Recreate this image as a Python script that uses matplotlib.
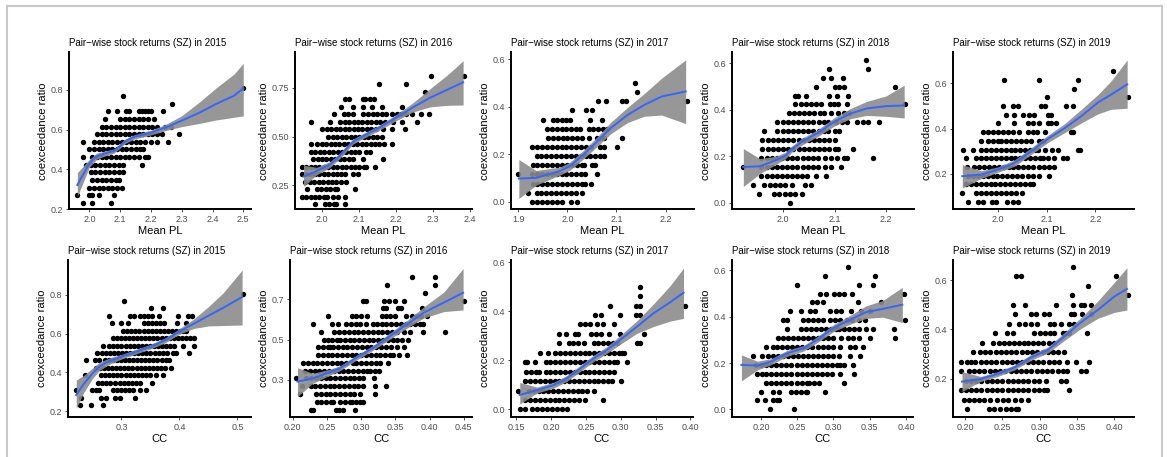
import numpy as np
import matplotlib.pyplot as plt
from matplotlib.patches import Rectangle

W, H = 1167, 457
plt.rcParams['font.family'] = ['Liberation Sans', 'DejaVu Sans']

N_WINDOWS = 26  # coexceedance ratio = count / 26

# ---------- scatter data: {coexceedance count: [x values]} ----------
pl_2015 = {
    21: [2.50],
    20: [2.11],
    19: [2.27],
    18: [2.06, 2.09, 2.12, 2.13, 2.16, 2.17, 2.18, 2.19, 2.20, 2.24],
    17: [2.05, 2.10, 2.115, 2.13, 2.145, 2.16, 2.175, 2.19, 2.21],
    16: [2.04, 2.055, 2.07, 2.085, 2.10, 2.115, 2.13, 2.145, 2.16, 2.175, 2.19, 2.205, 2.22, 2.245, 2.265],
    15: [2.025, 2.04, 2.055, 2.07, 2.085, 2.10, 2.115, 2.13, 2.145, 2.16, 2.175, 2.19, 2.205, 2.22, 2.235, 2.29],
    14: [1.98, 2.015, 2.03, 2.045, 2.06, 2.075, 2.09, 2.105, 2.12, 2.135, 2.15, 2.165, 2.18, 2.20, 2.22, 2.255],
    13: [2.00, 2.015, 2.03, 2.045, 2.06, 2.075, 2.09, 2.105, 2.12, 2.135, 2.15, 2.165, 2.175],
    12: [1.98, 2.01, 2.025, 2.04, 2.055, 2.07, 2.085, 2.10, 2.115, 2.13, 2.145, 2.16, 2.18, 2.19],
    11: [1.99, 2.005, 2.02, 2.035, 2.05, 2.065, 2.08, 2.095, 2.11, 2.17],
    10: [2.005, 2.02, 2.035, 2.05, 2.065, 2.08, 2.095, 2.11],
    9: [2.01, 2.025, 2.04, 2.055, 2.07, 2.085, 2.095],
    8: [2.00, 2.015, 2.03, 2.045, 2.06, 2.075, 2.09, 2.105],
    7: [1.96, 2.00, 2.01, 2.03, 2.08],
    6: [1.98, 2.01, 2.07],
}
pl_2016 = {
    21: [2.295, 2.384],
    20: [2.154, 2.228],
    19: [2.278],
    18: [2.062, 2.073, 2.111, 2.116, 2.129, 2.14],
    17: [2.051, 2.084, 2.111, 2.134, 2.161, 2.217],
    16: [2.032, 2.058, 2.071, 2.084, 2.111, 2.125, 2.137, 2.149, 2.161, 2.173, 2.19, 2.202, 2.214, 2.226, 2.242, 2.266, 2.29],
    15: [1.97, 2.022, 2.049, 2.061, 2.073, 2.085, 2.097, 2.109, 2.121, 2.133, 2.145, 2.157, 2.169, 2.192, 2.215, 2.257],
    14: [2.001, 2.013, 2.025, 2.037, 2.049, 2.061, 2.073, 2.085, 2.097, 2.109, 2.121, 2.133, 2.145, 2.165, 2.188, 2.225],
    13: [2.017, 2.029, 2.041, 2.053, 2.065, 2.077, 2.089, 2.101, 2.113, 2.125, 2.137, 2.149, 2.161],
    12: [1.97, 1.987, 1.999, 2.011, 2.023, 2.035, 2.047, 2.059, 2.071, 2.083, 2.095, 2.107, 2.119, 2.131, 2.143, 2.155, 2.167, 2.188],
    11: [1.97, 1.982, 1.994, 2.006, 2.018, 2.03, 2.042, 2.054, 2.066, 2.078, 2.09, 2.10, 2.12, 2.13],
    10: [1.976, 1.988, 2.0, 2.012, 2.024, 2.036, 2.048, 2.06, 2.072, 2.084, 2.111, 2.164],
    9: [1.945, 1.957, 1.969, 1.981, 1.993, 2.005, 2.017, 2.029, 2.041, 2.053, 2.065, 2.077, 2.089, 2.101, 2.113, 2.12, 2.143],
    8: [1.945, 1.957, 1.969, 1.981, 1.993, 2.005, 2.017, 2.029, 2.041, 2.05, 2.062, 2.084, 2.098],
    7: [1.955, 1.967, 1.979, 1.991, 2.003, 2.015, 2.027, 2.039, 2.051, 2.066],
    6: [1.96, 1.986, 1.998, 2.010, 2.022, 2.034, 2.04, 2.089],
    5: [1.945, 1.957, 1.969, 1.981, 1.993, 2.005, 2.013, 2.03, 2.044, 2.062],
    4: [1.981, 2.008, 2.02, 2.032, 2.038, 2.062],
}
pl_2017 = {
    13: [2.138],
    12: [2.141],
    11: [2.062, 2.079, 2.111, 2.119, 2.243],
    10: [2.01, 2.038, 2.05],
    9: [1.95, 1.97, 1.979, 1.988, 1.997, 2.005, 2.047, 2.071],
    8: [1.958, 1.968, 1.978, 1.988, 1.998, 2.008, 2.018, 2.026, 2.043, 2.053, 2.063, 2.073, 2.081],
    7: [1.96, 1.97, 1.98, 1.99, 2.0, 2.01, 2.02, 2.03, 2.043, 2.06, 2.068, 2.074, 2.111],
    6: [1.928, 1.938, 1.948, 1.958, 1.968, 1.978, 1.988, 1.998, 2.008, 2.018, 2.028, 2.038, 2.048, 2.066, 2.074, 2.102],
    5: [1.937, 1.947, 1.957, 1.967, 1.977, 1.987, 1.997, 2.007, 2.017, 2.027, 2.037, 2.047, 2.057, 2.067, 2.074],
    4: [1.929, 1.939, 1.949, 1.959, 1.969, 1.979, 1.989, 1.999, 2.009, 2.019, 2.029, 2.033, 2.05, 2.057],
    3: [1.90, 1.928, 1.938, 1.948, 1.958, 1.968, 1.978, 1.988, 1.998, 2.008, 2.018, 2.028, 2.036, 2.06],
    2: [1.929, 1.939, 1.949, 1.959, 1.969, 1.979, 1.989, 1.999, 2.009, 2.019, 2.029, 2.036, 2.049],
    1: [1.92, 1.937, 1.947, 1.957, 1.967, 1.977, 1.987, 1.997, 2.007, 2.017, 2.029],
    0: [1.928, 1.938, 1.948, 1.958, 1.968, 1.978, 1.988, 2.008, 2.019],
}
pl_2018 = {
    16: [2.161],
    15: [2.089, 2.165],
    14: [2.077, 2.093, 2.116],
    13: [2.064, 2.10, 2.109, 2.118, 2.217],
    12: [2.024, 2.029, 2.045, 2.09, 2.104, 2.126],
    11: [2.024, 2.034, 2.044, 2.054, 2.064, 2.074, 2.092, 2.099, 2.106, 2.125, 2.236],
    10: [2.011, 2.021, 2.031, 2.041, 2.051, 2.061, 2.071, 2.08, 2.093, 2.106, 2.118, 2.128],
    9: [1.989, 1.999, 2.009, 2.019, 2.029, 2.039, 2.049, 2.059, 2.069, 2.079, 2.087, 2.103, 2.114, 2.125, 2.143, 2.155, 2.165, 2.186],
    8: [1.964, 1.989, 1.999, 2.009, 2.019, 2.029, 2.039, 2.049, 2.059, 2.069, 2.079, 2.087, 2.10, 2.109],
    7: [1.96, 1.97, 1.98, 1.99, 2.0, 2.01, 2.02, 2.03, 2.04, 2.05, 2.06, 2.07, 2.08, 2.09, 2.10],
    6: [1.96, 1.97, 1.98, 1.99, 2.0, 2.01, 2.02, 2.03, 2.04, 2.05, 2.06, 2.07, 2.08, 2.09, 2.10, 2.107, 2.135],
    5: [1.958, 1.968, 1.978, 1.988, 1.998, 2.008, 2.018, 2.028, 2.038, 2.048, 2.058, 2.068, 2.081, 2.093, 2.105, 2.118, 2.125, 2.175],
    4: [1.923, 1.958, 1.968, 1.978, 1.988, 1.998, 2.008, 2.018, 2.028, 2.038, 2.048, 2.058, 2.068, 2.081, 2.093, 2.112],
    3: [1.958, 1.968, 1.978, 1.988, 1.998, 2.008, 2.018, 2.028, 2.036, 2.046, 2.063, 2.084],
    2: [1.942, 1.964, 1.974, 1.984, 1.994, 2.004, 2.018, 2.043, 2.054],
    1: [1.953, 1.983, 1.993, 2.003, 2.013, 2.023, 2.036],
    0: [2.013],
}
pl_2019 = {
    17: [2.235],
    16: [2.012, 2.085, 2.165],
    15: [2.155],
    14: [2.10, 2.266],
    13: [2.01, 2.03, 2.041, 2.089, 2.097, 2.14, 2.154],
    12: [2.017, 2.033, 2.051, 2.063, 2.075, 2.102, 2.109],
    11: [2.0, 2.034, 2.061, 2.071, 2.085, 2.102, 2.109, 2.119],
    10: [1.969, 1.979, 1.99, 2.0, 2.01, 2.02, 2.03, 2.044, 2.061, 2.071, 2.081, 2.096, 2.15, 2.154],
    9: [1.965, 1.98, 1.99, 2.0, 2.007, 2.017, 2.027, 2.037, 2.047, 2.057, 2.068, 2.085, 2.092],
    8: [1.928, 1.949, 1.966, 1.976, 1.986, 1.996, 2.006, 2.016, 2.026, 2.036, 2.046, 2.056, 2.066, 2.076, 2.082, 2.096, 2.11, 2.123, 2.164, 2.169],
    7: [1.935, 1.956, 1.966, 1.976, 1.986, 1.996, 2.006, 2.016, 2.026, 2.036, 2.046, 2.056, 2.066, 2.076, 2.086, 2.092, 2.102, 2.116, 2.134, 2.141],
    6: [1.937, 1.952, 1.962, 1.972, 1.982, 1.992, 2.002, 2.012, 2.022, 2.032, 2.042, 2.052, 2.062, 2.072, 2.085, 2.095, 2.105, 2.116],
    5: [1.939, 1.949, 1.959, 1.969, 1.979, 1.989, 1.999, 2.009, 2.019, 2.029, 2.039, 2.049, 2.061, 2.071, 2.085, 2.104],
    4: [1.935, 1.945, 1.955, 1.965, 1.975, 1.985, 1.995, 2.005, 2.015, 2.025, 2.035, 2.045, 2.055, 2.065, 2.072],
    3: [1.927, 1.956, 1.966, 1.976, 1.986, 1.996, 2.006, 2.016, 2.026, 2.038, 2.049],
    2: [1.939, 1.959, 1.969, 1.988, 1.997, 2.019, 2.03, 2.041],
}
cc_2015 = {
    21: [0.509],
    20: [0.305],
    19: [0.351, 0.372],
    18: [0.278, 0.315, 0.321, 0.332, 0.339, 0.346, 0.353, 0.365, 0.397, 0.415, 0.421],
    17: [0.284, 0.30, 0.312, 0.338, 0.345, 0.352, 0.359, 0.366, 0.374, 0.396, 0.412],
    16: [0.303, 0.31, 0.317, 0.324, 0.331, 0.338, 0.345, 0.352, 0.359, 0.366, 0.373, 0.38, 0.387, 0.394, 0.401, 0.406, 0.412],
    15: [0.285, 0.292, 0.299, 0.306, 0.313, 0.32, 0.327, 0.334, 0.341, 0.348, 0.355, 0.362, 0.369, 0.376, 0.383, 0.39, 0.397, 0.404, 0.411, 0.418, 0.425],
    14: [0.269, 0.279, 0.286, 0.293, 0.30, 0.307, 0.314, 0.321, 0.328, 0.335, 0.342, 0.349, 0.356, 0.363, 0.37, 0.377, 0.384, 0.39, 0.406, 0.425],
    13: [0.257, 0.266, 0.273, 0.28, 0.287, 0.294, 0.301, 0.308, 0.315, 0.322, 0.329, 0.336, 0.343, 0.35, 0.357, 0.364, 0.371, 0.378, 0.388, 0.394, 0.416],
    12: [0.238, 0.254, 0.262, 0.271, 0.278, 0.285, 0.292, 0.299, 0.306, 0.313, 0.32, 0.327, 0.334, 0.341, 0.348, 0.355, 0.362, 0.369, 0.376, 0.382],
    11: [0.256, 0.263, 0.27, 0.277, 0.284, 0.291, 0.298, 0.305, 0.312, 0.319, 0.326, 0.333, 0.34, 0.347, 0.354, 0.361, 0.368, 0.375, 0.385],
    10: [0.237, 0.265, 0.272, 0.279, 0.286, 0.293, 0.30, 0.307, 0.314, 0.321, 0.328, 0.335, 0.342, 0.349, 0.359, 0.371],
    9: [0.26, 0.267, 0.274, 0.281, 0.288, 0.297, 0.304, 0.311, 0.318, 0.325, 0.332, 0.353],
    8: [0.222, 0.249, 0.256, 0.262, 0.285, 0.292, 0.299, 0.306, 0.313, 0.32, 0.332, 0.342],
    7: [0.231, 0.265, 0.274, 0.289, 0.298, 0.324],
    6: [0.229, 0.248, 0.268],
}
cc_2016 = {
    21: [0.374, 0.408],
    20: [0.338, 0.408],
    19: [0.393],
    18: [0.302, 0.307, 0.334, 0.34, 0.349, 0.362, 0.45],
    17: [0.332, 0.337, 0.354, 0.358, 0.389],
    16: [0.252, 0.286, 0.293, 0.30, 0.308, 0.33, 0.337, 0.342, 0.35, 0.366, 0.374, 0.381, 0.388, 0.396],
    15: [0.23, 0.257, 0.266, 0.278, 0.285, 0.292, 0.298, 0.307, 0.318, 0.323, 0.33, 0.337, 0.344, 0.351, 0.358, 0.365, 0.372, 0.379, 0.386, 0.39],
    14: [0.242, 0.261, 0.268, 0.275, 0.282, 0.289, 0.296, 0.303, 0.31, 0.317, 0.324, 0.331, 0.338, 0.345, 0.352, 0.362, 0.372, 0.391, 0.423],
    13: [0.245, 0.251, 0.258, 0.265, 0.269, 0.276, 0.283, 0.29, 0.297, 0.304, 0.311, 0.318, 0.325, 0.332, 0.339, 0.346, 0.353, 0.36, 0.369],
    12: [0.237, 0.244, 0.251, 0.254, 0.259, 0.266, 0.273, 0.28, 0.287, 0.294, 0.301, 0.308, 0.315, 0.322, 0.329, 0.336, 0.343, 0.352, 0.362],
    11: [0.237, 0.244, 0.251, 0.258, 0.265, 0.272, 0.279, 0.286, 0.293, 0.30, 0.307, 0.314, 0.321, 0.328, 0.335, 0.342, 0.347, 0.355, 0.367],
    10: [0.215, 0.222, 0.229, 0.236, 0.243, 0.25, 0.257, 0.264, 0.271, 0.278, 0.288, 0.293, 0.30, 0.307, 0.314, 0.321, 0.327, 0.339],
    9: [0.218, 0.225, 0.232, 0.239, 0.246, 0.253, 0.26, 0.267, 0.274, 0.281, 0.288, 0.295, 0.302, 0.309, 0.313, 0.32, 0.326],
    8: [0.205, 0.22, 0.227, 0.234, 0.241, 0.248, 0.255, 0.262, 0.269, 0.276, 0.283, 0.29, 0.297, 0.303, 0.319],
    7: [0.214, 0.226, 0.233, 0.24, 0.247, 0.254, 0.261, 0.268, 0.275, 0.282, 0.289, 0.296, 0.303, 0.32, 0.336],
    6: [0.211, 0.234, 0.241, 0.248, 0.255, 0.262, 0.269, 0.276, 0.283, 0.29, 0.298, 0.32],
    5: [0.235, 0.242, 0.249, 0.256, 0.259, 0.269, 0.276, 0.283, 0.286, 0.292, 0.298, 0.303],
    4: [0.226, 0.23, 0.263, 0.268, 0.274, 0.291],
}
cc_2017 = {
    13: [0.328],
    12: [0.328],
    11: [0.284, 0.322, 0.328, 0.392],
    10: [0.263, 0.271, 0.299, 0.322, 0.328],
    9: [0.241, 0.248, 0.256, 0.266, 0.275, 0.29],
    8: [0.211, 0.222, 0.235, 0.239, 0.257, 0.264, 0.271, 0.283, 0.299, 0.334],
    7: [0.211, 0.225, 0.232, 0.239, 0.247, 0.261, 0.268, 0.275, 0.282, 0.289, 0.295, 0.323, 0.327],
    6: [0.184, 0.195, 0.206, 0.213, 0.22, 0.227, 0.234, 0.241, 0.248, 0.255, 0.262, 0.269, 0.276, 0.283, 0.29, 0.297, 0.302, 0.305],
    5: [0.163, 0.166, 0.177, 0.192, 0.199, 0.206, 0.213, 0.22, 0.227, 0.234, 0.241, 0.248, 0.255, 0.262, 0.269, 0.276, 0.283, 0.29, 0.295, 0.309],
    4: [0.164, 0.171, 0.178, 0.182, 0.192, 0.199, 0.206, 0.213, 0.22, 0.227, 0.234, 0.241, 0.248, 0.255, 0.262, 0.269, 0.276, 0.283, 0.29],
    3: [0.162, 0.17, 0.177, 0.184, 0.191, 0.198, 0.205, 0.212, 0.219, 0.226, 0.233, 0.24, 0.247, 0.254, 0.261, 0.268, 0.275, 0.282, 0.287, 0.30],
    2: [0.153, 0.168, 0.175, 0.182, 0.189, 0.196, 0.203, 0.21, 0.217, 0.224, 0.231, 0.238, 0.245, 0.252, 0.261],
    1: [0.162, 0.17, 0.177, 0.184, 0.191, 0.198, 0.205, 0.212, 0.219, 0.226, 0.233, 0.24, 0.249, 0.275],
    0: [0.155, 0.163, 0.173, 0.18, 0.187, 0.194, 0.201, 0.208, 0.215, 0.223],
}
cc_2018 = {
    16: [0.32],
    15: [0.288, 0.357],
    14: [0.249, 0.335, 0.354],
    13: [0.282, 0.29, 0.301, 0.308, 0.314, 0.326, 0.397],
    12: [0.27, 0.277, 0.286, 0.334, 0.366],
    11: [0.24, 0.255, 0.268, 0.275, 0.295, 0.303, 0.311, 0.324, 0.338, 0.35],
    10: [0.23, 0.236, 0.258, 0.265, 0.272, 0.279, 0.286, 0.295, 0.302, 0.309, 0.318, 0.326, 0.335, 0.344, 0.398],
    9: [0.236, 0.255, 0.262, 0.269, 0.276, 0.283, 0.29, 0.297, 0.304, 0.307, 0.314, 0.321, 0.328, 0.335, 0.345, 0.355, 0.383],
    8: [0.223, 0.23, 0.237, 0.244, 0.251, 0.258, 0.265, 0.272, 0.279, 0.286, 0.293, 0.30, 0.311, 0.32, 0.327, 0.335, 0.35, 0.385],
    7: [0.207, 0.216, 0.222, 0.229, 0.236, 0.243, 0.25, 0.257, 0.264, 0.271, 0.278, 0.285, 0.292, 0.299, 0.309, 0.323, 0.33, 0.341],
    6: [0.189, 0.202, 0.209, 0.216, 0.223, 0.23, 0.237, 0.244, 0.251, 0.258, 0.265, 0.272, 0.279, 0.286, 0.293, 0.30, 0.307, 0.323, 0.337],
    5: [0.193, 0.20, 0.207, 0.214, 0.221, 0.228, 0.235, 0.242, 0.249, 0.256, 0.263, 0.27, 0.277, 0.284, 0.291, 0.298, 0.305, 0.309, 0.315, 0.327],
    4: [0.195, 0.202, 0.207, 0.214, 0.221, 0.228, 0.235, 0.242, 0.249, 0.256, 0.263, 0.27, 0.277, 0.284, 0.291, 0.298, 0.309, 0.328],
    3: [0.207, 0.214, 0.221, 0.228, 0.235, 0.242, 0.249, 0.256, 0.263, 0.266, 0.273, 0.28, 0.315],
    2: [0.20, 0.216, 0.225, 0.241, 0.248, 0.255, 0.262, 0.264, 0.288],
    1: [0.194, 0.205, 0.216, 0.222, 0.225],
    0: [0.212, 0.246],
}
cc_2019 = {
    17: [0.345],
    16: [0.269, 0.275, 0.403],
    15: [0.365],
    14: [0.344, 0.418],
    13: [0.264, 0.281, 0.322, 0.345, 0.355, 0.36, 0.369],
    12: [0.267, 0.288, 0.295, 0.306, 0.312, 0.342, 0.346, 0.357, 0.369],
    11: [0.259, 0.272, 0.28, 0.288, 0.297, 0.314, 0.319, 0.328, 0.34, 0.346],
    10: [0.24, 0.256, 0.264, 0.293, 0.30, 0.307, 0.314, 0.319, 0.331, 0.336, 0.34, 0.364],
    9: [0.223, 0.238, 0.245, 0.252, 0.259, 0.266, 0.273, 0.279, 0.284, 0.291, 0.298, 0.305, 0.312, 0.319],
    8: [0.211, 0.22, 0.227, 0.234, 0.241, 0.248, 0.255, 0.262, 0.269, 0.276, 0.283, 0.29, 0.297, 0.304, 0.311, 0.318, 0.325, 0.333],
    7: [0.195, 0.202, 0.208, 0.214, 0.221, 0.228, 0.235, 0.242, 0.249, 0.256, 0.263, 0.27, 0.277, 0.284, 0.291, 0.298, 0.305, 0.312, 0.319, 0.326, 0.337, 0.349, 0.366],
    6: [0.194, 0.205, 0.212, 0.219, 0.226, 0.233, 0.24, 0.247, 0.254, 0.261, 0.268, 0.275, 0.282, 0.289, 0.296, 0.303, 0.31, 0.317, 0.324, 0.331, 0.337, 0.355, 0.362],
    5: [0.201, 0.208, 0.215, 0.222, 0.229, 0.236, 0.243, 0.25, 0.257, 0.264, 0.271, 0.278, 0.285, 0.292, 0.299, 0.308, 0.328, 0.336],
    4: [0.194, 0.201, 0.208, 0.215, 0.222, 0.229, 0.236, 0.243, 0.25, 0.257, 0.264, 0.271, 0.278, 0.285, 0.292, 0.299, 0.306, 0.31, 0.34],
    3: [0.198, 0.205, 0.212, 0.219, 0.225, 0.234, 0.243, 0.251, 0.258, 0.267, 0.275, 0.284],
    2: [0.202, 0.232, 0.239, 0.247, 0.255, 0.262, 0.268, 0.271],
}

# ---------- loess fits: x, fit, lower / upper 95% band ----------
fit_pl_2015 = dict(
    x=[1.961, 2.0, 2.025, 2.06, 2.08, 2.10, 2.115, 2.145, 2.20, 2.25, 2.30, 2.36, 2.41, 2.47, 2.50],
    y=[0.321, 0.430, 0.467, 0.484, 0.492, 0.518, 0.540, 0.563, 0.585, 0.612, 0.645, 0.687, 0.728, 0.771, 0.808],
    lo=[0.262, 0.41, 0.452, 0.472, 0.481, 0.507, 0.529, 0.552, 0.573, 0.596, 0.615, 0.632, 0.648, 0.662, 0.669],
    hi=[0.383, 0.45, 0.482, 0.496, 0.503, 0.529, 0.551, 0.574, 0.597, 0.628, 0.67, 0.742, 0.808, 0.88, 0.934])
fit_pl_2016 = dict(
    x=[1.95, 1.986, 2.022, 2.049, 2.084, 2.111, 2.156, 2.201, 2.246, 2.291, 2.338, 2.381],
    y=[0.296, 0.324, 0.358, 0.404, 0.475, 0.503, 0.547, 0.598, 0.65, 0.698, 0.74, 0.778],
    lo=[0.245, 0.305, 0.343, 0.39, 0.462, 0.49, 0.534, 0.582, 0.626, 0.652, 0.66, 0.662],
    hi=[0.353, 0.343, 0.373, 0.418, 0.488, 0.516, 0.56, 0.614, 0.674, 0.744, 0.815, 0.888])
fit_pl_2017 = dict(
    x=[1.901, 1.936, 1.984, 2.005, 2.033, 2.06, 2.088, 2.123, 2.157, 2.192, 2.241],
    y=[0.098, 0.101, 0.129, 0.15, 0.199, 0.252, 0.31, 0.366, 0.408, 0.443, 0.464],
    lo=[0.014, 0.07, 0.112, 0.133, 0.181, 0.232, 0.286, 0.334, 0.36, 0.365, 0.329],
    hi=[0.178, 0.132, 0.146, 0.167, 0.217, 0.272, 0.334, 0.398, 0.456, 0.52, 0.597])
fit_pl_2018 = dict(
    x=[1.923, 1.955, 1.986, 2.005, 2.018, 2.036, 2.068, 2.099, 2.131, 2.162, 2.20, 2.235],
    y=[0.154, 0.157, 0.183, 0.204, 0.232, 0.262, 0.301, 0.348, 0.384, 0.406, 0.416, 0.419],
    lo=[0.07, 0.125, 0.165, 0.19, 0.22, 0.248, 0.286, 0.33, 0.362, 0.376, 0.372, 0.365],
    hi=[0.233, 0.19, 0.2, 0.218, 0.246, 0.276, 0.316, 0.366, 0.406, 0.436, 0.46, 0.506])
fit_pl_2019 = dict(
    x=[1.927, 1.966, 2.0, 2.034, 2.068, 2.102, 2.137, 2.171, 2.205, 2.232, 2.265],
    y=[0.19, 0.197, 0.219, 0.248, 0.3, 0.354, 0.402, 0.455, 0.515, 0.55, 0.595],
    lo=[0.138, 0.18, 0.207, 0.234, 0.285, 0.338, 0.382, 0.425, 0.465, 0.485, 0.49],
    hi=[0.241, 0.214, 0.231, 0.262, 0.315, 0.37, 0.422, 0.485, 0.55, 0.61, 0.703])
fit_cc_2015 = dict(
    x=[0.222, 0.235, 0.25, 0.262, 0.28, 0.30, 0.325, 0.35, 0.375, 0.40, 0.425, 0.45, 0.475, 0.508],
    y=[0.283, 0.34, 0.395, 0.431, 0.459, 0.481, 0.507, 0.533, 0.565, 0.612, 0.652, 0.693, 0.733, 0.79],
    lo=[0.214, 0.296, 0.368, 0.41, 0.443, 0.469, 0.495, 0.521, 0.552, 0.598, 0.627, 0.64, 0.642, 0.645],
    hi=[0.36, 0.384, 0.422, 0.452, 0.475, 0.493, 0.519, 0.545, 0.578, 0.626, 0.677, 0.74, 0.81, 0.929])
fit_cc_2016 = dict(
    x=[0.207, 0.229, 0.254, 0.269, 0.293, 0.318, 0.342, 0.367, 0.391, 0.421, 0.449],
    y=[0.292, 0.308, 0.338, 0.358, 0.41, 0.46, 0.517, 0.575, 0.632, 0.683, 0.731],
    lo=[0.218, 0.283, 0.323, 0.346, 0.398, 0.448, 0.502, 0.556, 0.606, 0.638, 0.646],
    hi=[0.361, 0.333, 0.353, 0.37, 0.422, 0.472, 0.532, 0.594, 0.66, 0.735, 0.851])
fit_cc_2017 = dict(
    x=[0.155, 0.18, 0.204, 0.223, 0.242, 0.261, 0.28, 0.299, 0.323, 0.347, 0.371, 0.39],
    y=[0.059, 0.079, 0.099, 0.127, 0.167, 0.208, 0.242, 0.283, 0.337, 0.392, 0.437, 0.476],
    lo=[0.022, 0.067, 0.087, 0.115, 0.155, 0.195, 0.228, 0.265, 0.31, 0.338, 0.36, 0.371],
    hi=[0.11, 0.091, 0.111, 0.139, 0.179, 0.221, 0.256, 0.301, 0.361, 0.43, 0.505, 0.576])
fit_cc_2018 = dict(
    x=[0.173, 0.195, 0.214, 0.236, 0.259, 0.277, 0.30, 0.323, 0.345, 0.368, 0.395],
    y=[0.192, 0.189, 0.206, 0.242, 0.264, 0.30, 0.351, 0.387, 0.42, 0.434, 0.452],
    lo=[0.123, 0.17, 0.193, 0.229, 0.252, 0.287, 0.336, 0.368, 0.393, 0.398, 0.375],
    hi=[0.235, 0.208, 0.219, 0.255, 0.276, 0.313, 0.366, 0.406, 0.447, 0.47, 0.527])
fit_cc_2019 = dict(
    x=[0.196, 0.221, 0.243, 0.266, 0.288, 0.311, 0.333, 0.355, 0.378, 0.40, 0.417],
    y=[0.189, 0.2, 0.219, 0.246, 0.286, 0.317, 0.371, 0.428, 0.479, 0.533, 0.564],
    lo=[0.149, 0.19, 0.209, 0.236, 0.275, 0.305, 0.355, 0.403, 0.445, 0.469, 0.479],
    hi=[0.23, 0.21, 0.229, 0.256, 0.298, 0.329, 0.387, 0.447, 0.515, 0.59, 0.65])

years = [2015, 2016, 2017, 2018, 2019]

# panel boxes in pixels (left, top, right, bottom), axis limits and ticks
panels = [
    (pl_2015, fit_pl_2015, 'Mean PL', (69, 52, 251, 209.5), (1.934, 2.525), (0.1975, 0.991),
     [2.0, 2.1, 2.2, 2.3, 2.4, 2.5], [0.2, 0.4, 0.6, 0.8], '%.1f', '%.1f'),
    (pl_2016, fit_pl_2016, 'Mean PL', (295, 52, 472, 209.5), (1.927, 2.405), (0.127, 0.933),
     [2.0, 2.1, 2.2, 2.3, 2.4], [0.25, 0.50, 0.75], '%.1f', '%.2f'),
    (pl_2017, fit_pl_2017, 'Mean PL', (511, 52, 694, 209.5), (1.885, 2.258), (-0.032, 0.630),
     [1.9, 2.0, 2.1, 2.2], [0.0, 0.2, 0.4, 0.6], '%.1f', '%.1f'),
    (pl_2018, fit_pl_2018, 'Mean PL', (732, 52, 914, 209.5), (1.901, 2.254), (-0.029, 0.649),
     [2.0, 2.1, 2.2], [0.0, 0.2, 0.4, 0.6], '%.1f', '%.1f'),
    (pl_2019, fit_pl_2019, 'Mean PL', (953, 52, 1134, 209.5), (1.908, 2.279), (0.043, 0.738),
     [2.0, 2.1, 2.2], [0.2, 0.4, 0.6], '%.1f', '%.1f'),
    (cc_2015, fit_cc_2015, 'CC', (68, 260, 251, 417), (0.2078, 0.5233), (0.169, 0.981),
     [0.3, 0.4, 0.5], [0.2, 0.4, 0.6, 0.8], '%.1f', '%.1f'),
    (cc_2016, fit_cc_2016, 'CC', (290, 260, 472, 417), (0.196, 0.462), (0.117, 0.893),
     [0.20, 0.25, 0.30, 0.35, 0.40, 0.45], [0.3, 0.5, 0.7], '%.2f', '%.1f'),
    (cc_2017, fit_cc_2017, 'CC', (511, 260, 693, 417), (0.1425, 0.4036), (-0.031, 0.609),
     [0.15, 0.20, 0.25, 0.30, 0.35, 0.40], [0.0, 0.2, 0.4, 0.6], '%.2f', '%.1f'),
    (cc_2018, fit_cc_2018, 'CC', (732, 260, 913, 417), (0.160, 0.4097), (-0.033, 0.645),
     [0.20, 0.25, 0.30, 0.35, 0.40], [0.0, 0.2, 0.4, 0.6], '%.2f', '%.1f'),
    (cc_2019, fit_cc_2019, 'CC', (953, 260, 1134, 417), (0.1839, 0.4265), (0.046, 0.681),
     [0.20, 0.25, 0.30, 0.35, 0.40], [0.2, 0.4, 0.6], '%.2f', '%.1f'),
]

fig = plt.figure(figsize=(W / 100, H / 100), dpi=100)

for i, (rows, fit, xlabel, box, xlim, ylim, xt, yt, xf, yf) in enumerate(panels):
    l, t, r, b = box
    ax = fig.add_axes([l / W, 1 - b / H, (r - l) / W, (b - t) / H])
    xs = np.concatenate([rows[k] for k in rows])
    ys = np.concatenate([np.full(len(rows[k]), k / N_WINDOWS) for k in rows])
    ax.scatter(xs, ys, s=15, c='black', linewidths=0, zorder=2)
    ax.fill_between(fit['x'], fit['lo'], fit['hi'], color='#8c8c8c', alpha=0.9, lw=0, zorder=3)
    ax.plot(fit['x'], fit['y'], color='#3366FF', lw=1.4, zorder=4)

    ax.set_xlim(xlim)
    ax.set_ylim(ylim)
    ax.set_xticks(xt)
    ax.set_yticks(yt)
    ax.set_xticklabels([xf % v for v in xt])
    ax.set_yticklabels([yf % v for v in yt])
    for s in ['top', 'right']:
        ax.spines[s].set_visible(False)
    for s in ['left', 'bottom']:
        ax.spines[s].set_linewidth(1.4)
        ax.spines[s].set_color('black')
    ax.tick_params(length=2.5, width=0.6, color='#333333', labelsize=6.5,
                   labelcolor='#4D4D4D', pad=1.5)
    ax.set_xlabel(xlabel, fontsize=8, labelpad=1.5)
    ax.set_ylabel('coexceedance ratio', fontsize=8, labelpad=2)
    ax.set_title(f'Pair\u2212wise stock returns (SZ) in {years[i % 5]}', loc='left',
                 fontsize=7, pad=4)

# light frame around the figure
fig.patches.append(Rectangle((7 / W, -0.1), (1162 - 7) / W, 0.1 + (H - 6) / H,
                             transform=fig.transFigure, fill=False,
                             ec='#c8c8c8', lw=1.5))

fig.savefig('out.png', dpi=100)
